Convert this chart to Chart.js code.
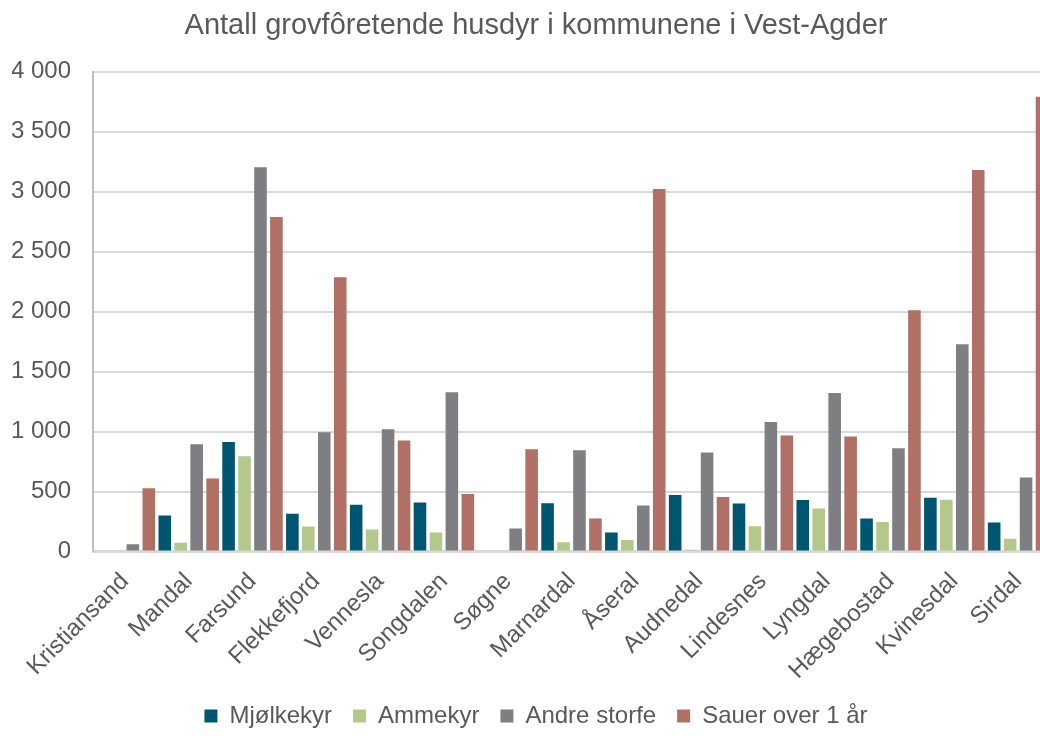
<!DOCTYPE html>
<html>
<head>
<meta charset="utf-8">
<script src="https://cdn.jsdelivr.net/npm/chart.js@4.4.1/dist/chart.umd.min.js"></script>
<style>
  html, body { margin: 0; padding: 0; background: #fff; overflow: hidden; }
  #wrap { position: relative; width: 1072px; height: 738px; }
</style>
</head>
<body>
<div id="wrap"><canvas id="husdyrChart"></canvas></div>
<script>
// Kommuner i Vest-Agder
const kommuner = ['Kristiansand', 'Mandal', 'Farsund', 'Flekkefjord', 'Vennesla', 'Songdalen', 'Søgne',
    'Marnardal', 'Åseral', 'Audnedal', 'Lindesnes', 'Lyngdal', 'Hægebostad', 'Kvinesdal', 'Sirdal'];

// Antall dyr per kategori (lest av figuren)
const mjolkekyr = [0, 300, 912, 315, 390, 409, 0, 403, 158, 470, 400, 430, 275, 448, 242];
const ammekyr = [0, 72, 795, 208, 183, 158, 0, 77, 96, 15, 210, 358, 245, 431, 107];
const andreStorfe = [60, 894, 3205, 994, 1019, 1328, 192, 845, 384, 825, 1079, 1322, 861, 1728, 616];
const sauer = [527, 609, 2790, 2286, 925, 479, 853, 274, 3022, 454, 967, 958, 2012, 3182, 3792];

const yMin = 0;
const yMax = 4000;
const yStep = 500;

const textColor = '#595959';
const fontFamily = '"Liberation Sans", Arial, sans-serif';

function formatTall(v) {
    return String(v).replace(/\B(?=(\d{3})+(?!\d))/g, ' ');
}

const ctx = document.getElementById('husdyrChart').getContext('2d');
new Chart(ctx, {
    type: 'bar',
    data: {
        labels: kommuner,
        datasets: [
            { label: 'Mjølkekyr', data: mjolkekyr, backgroundColor: '#005670' },
            { label: 'Ammekyr', data: ammekyr, backgroundColor: '#b3c88a' },
            { label: 'Andre storfe', data: andreStorfe, backgroundColor: '#7f7f83' },
            { label: 'Sauer over 1 år', data: sauer, backgroundColor: '#b07065' }
        ]
    },
    options: {
        responsive: true,
        maintainAspectRatio: false,
        animation: false,
        categoryPercentage: 1.0,
        barPercentage: 0.79,
        layout: { padding: { left: 12, right: 12, top: 0, bottom: 0 } },
        scales: {
            x: {
                grid: { display: false },
                border: { display: true, color: '#d9d9d9', width: 3 },
                ticks: {
                    color: textColor,
                    font: { family: fontFamily, size: 24 },
                    minRotation: 45,
                    maxRotation: 45,
                    autoSkip: false,
                    padding: 8
                },
                // rotert første etikett skal ikke skyve plottet; litt luft til høyre
                afterFit: scale => {
                    scale.paddingLeft = 0;
                    scale.paddingRight = 22;
                    scale.height -= 10;
                }
            },
            y: {
                min: yMin,
                max: yMax,
                grid: { color: '#d9d9d9', lineWidth: 2, drawTicks: false },
                border: { display: true, color: '#bfbfbf', width: 2 },
                ticks: {
                    stepSize: yStep,
                    color: textColor,
                    font: { family: fontFamily, size: 24 },
                    padding: 22,
                    callback: v => formatTall(v)
                },
                afterFit: scale => { scale.width = 81; }
            }
        },
        plugins: {
            title: {
                display: true,
                text: 'Antall grovfôretende husdyr i kommunene i Vest-Agder',
                color: textColor,
                font: { family: fontFamily, size: 29, weight: 'normal' },
                padding: { top: 9, bottom: 28 }
            },
            legend: {
                position: 'bottom',
                labels: {
                    color: textColor,
                    font: { family: fontFamily, size: 24 },
                    boxWidth: 13,
                    boxHeight: 13,
                    padding: 21
                }
            },
            tooltip: { enabled: false }
        }
    }
});
</script>
</body>
</html>
